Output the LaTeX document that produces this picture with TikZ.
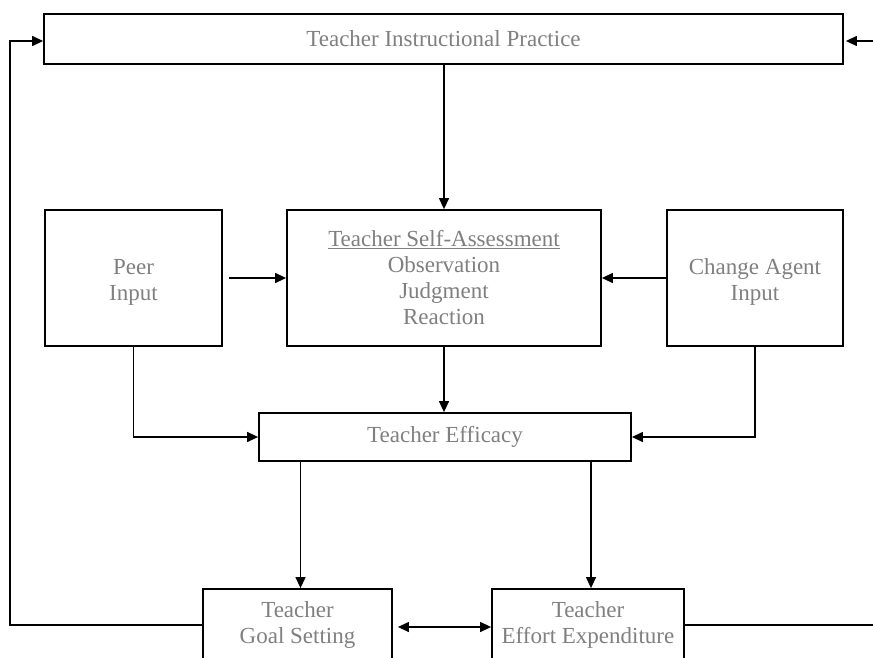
\documentclass[tikz,border=0pt]{standalone}
\usepackage{fontspec}
\setmainfont{Liberation Serif}
\usetikzlibrary{arrows.meta}
\definecolor{txtgray}{RGB}{128,128,128}
\newcommand{\lowertwo}[2]{\raisebox{-11pt}[0pt][0pt]{\begin{tabular}{@{}c@{}}#1\\#2\end{tabular}}}
\begin{document}
\begin{tikzpicture}[x=1pt,y=1pt,
  boxstyle/.style={draw=black,line width=1.8pt,rectangle,inner sep=0pt,
    text=txtgray,align=center,font=\fontsize{23}{26}\selectfont},
  conn/.style={line width=1.3pt,-{Triangle[length=11pt,width=10pt]}},
  plainline/.style={line width=1.3pt}]
\clip (0,0) rectangle (873,-658);
\fill[white] (0,0) rectangle (873,-658);
\node[boxstyle,minimum width=799pt,minimum height=50pt] (top) at (443.5,-39) {Teacher Instructional Practice};
\node[boxstyle,minimum width=177pt,minimum height=136pt] (peer) at (133.5,-278) {\lowertwo{Peer}{Input}};
\node[boxstyle,minimum width=314pt,minimum height=136pt] (sa) at (444,-278) {\underline{Teacher Self-Assessment}\\Observation\\Judgment\\Reaction};
\node[boxstyle,minimum width=176pt,minimum height=136pt] (ca) at (755,-278) {\lowertwo{Change Agent}{Input}};
\node[boxstyle,minimum width=372pt,minimum height=48pt] (eff) at (445,-437) {Teacher Efficacy};
\node[boxstyle,minimum width=189pt,minimum height=72pt] (goal) at (297.5,-625) {Teacher\\Goal Setting};
\node[boxstyle,minimum width=192pt,minimum height=72pt] (effort) at (588,-625) {Teacher\\Effort Expenditure};
\coordinate (lefttop) at (10,-41);
\coordinate (leftbot) at (10,-625);
\coordinate (rightin) at (873,-41);
\coordinate (rightout) at (873,-625);
% top -> self-assessment
\draw[conn] (top.south -| sa.north) -- (sa.north);
% peer -> sa, ca -> sa
\draw[conn] ([xshift=6pt]peer.east) -- (sa.west);
\draw[conn] (ca.west) -- (sa.east);
% sa -> efficacy
\draw[conn] (sa.south) -- (sa.south |- eff.north);
% peer -> efficacy, ca -> efficacy
\draw[conn] (peer.south) -- (peer.south |- eff.west) -- (eff.west);
\draw[conn] (ca.south) -- (ca.south |- eff.east) -- (eff.east);
% efficacy -> goal, effort
\draw[conn] ([xshift=3pt]eff.south -| goal.north) -- ([xshift=3pt]goal.north);
\draw[conn] ([xshift=3pt]eff.south -| effort.north) -- ([xshift=3pt]effort.north);
% goal <-> effort
\draw[line width=1.3pt,{Triangle[length=11pt,width=10pt]}-{Triangle[length=11pt,width=10pt]}] ([xshift=5pt,yshift=-2pt]goal.east) -- ([yshift=-2pt]effort.west);
% feedback loops
\draw[conn] (goal.west) -- (leftbot) -- (lefttop) -- (top.west |- lefttop);
\draw[conn] (rightin) -- ([xshift=2pt]top.east |- rightin);
\draw[plainline] (effort.east) -- (rightout);
\end{tikzpicture}
\end{document}
